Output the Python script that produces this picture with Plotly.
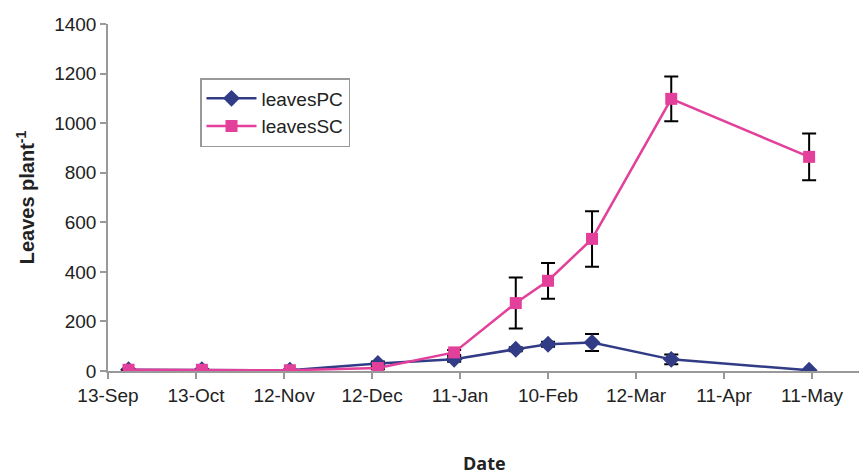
import plotly.graph_objects as go

dates = ["2002-09-20", "2002-10-15", "2002-11-14", "2002-12-14", "2003-01-09",
         "2003-01-30", "2003-02-10", "2003-02-25", "2003-03-24", "2003-05-10"]
leaves_pc = [5, 5, 3, 30, 47, 88, 108, 115, 47, 3]
leaves_pc_err = [None, None, None, 8, 10, 8, 10, 34, 20, None]
leaves_sc = [5, 5, 3, 12, 75, 274, 364, 533, 1098, 864]
leaves_sc_err = [None, None, None, 5, 10, 103, 72, 112, 90, 94]

tick_vals = ["2002-09-13", "2002-10-13", "2002-11-12", "2002-12-12", "2003-01-11",
             "2003-02-10", "2003-03-12", "2003-04-11", "2003-05-11"]
tick_text = ["13-Sep", "13-Oct", "12-Nov", "12-Dec", "11-Jan", "10-Feb", "12-Mar", "11-Apr", "11-May"]

PC_COLOR = "#313b86"
SC_COLOR = "#e2409a"

fig = go.Figure()
fig.add_trace(go.Scatter(
    x=dates, y=leaves_pc, name="leavesPC", mode="lines+markers",
    line=dict(color=PC_COLOR, width=2.5),
    marker=dict(symbol="diamond", size=13, color=PC_COLOR),
    error_y=dict(type="data", array=leaves_pc_err, color="black", thickness=2, width=7),
))
fig.add_trace(go.Scatter(
    x=dates, y=leaves_sc, name="leavesSC", mode="lines+markers",
    line=dict(color=SC_COLOR, width=2.5),
    marker=dict(symbol="square", size=12, color=SC_COLOR),
    error_y=dict(type="data", array=leaves_sc_err, color="black", thickness=2, width=7),
))

fig.update_layout(
    width=859, height=474,
    margin=dict(l=108, r=0, t=24, b=103),
    paper_bgcolor="white", plot_bgcolor="white",
    font=dict(family="Liberation Sans, Arial, sans-serif", size=19, color="#222"),
    showlegend=True,
    legend=dict(x=(200-108)/751, y=(371-78)/347, xanchor="left", yanchor="top",
                bordercolor="#999", borderwidth=1.5, bgcolor="white",
                font=dict(size=19), itemwidth=50, tracegroupgap=0),
    xaxis=dict(
        type="date", range=["2002-09-13", "2003-05-27"],
        tickvals=tick_vals, ticktext=tick_text,
        showgrid=False, zeroline=False,
        showline=True, linecolor="#999", linewidth=1.5,
        ticks="outside", ticklen=6, tickcolor="#999", tickwidth=1.5,
    ),
    yaxis=dict(
        range=[0, 1400], tickvals=[0, 200, 400, 600, 800, 1000, 1200, 1400],
        showgrid=False, zeroline=False,
        showline=True, linecolor="#999", linewidth=1.5,
        ticks="outside", ticklen=6, tickcolor="#999", tickwidth=1.5,
        title=dict(text="<b>Leaves plant<sup>-1</sup></b>", font=dict(size=20), standoff=14),
    ),
)
fig.add_annotation(text="<b>Date</b>", xref="paper", yref="paper", x=(484-108)/751, y=-(463-371)/347,
                   showarrow=False, font=dict(size=18, family="Open Sans, sans-serif"),
                   xanchor="center", yanchor="middle")

fig.write_html("out.html")
